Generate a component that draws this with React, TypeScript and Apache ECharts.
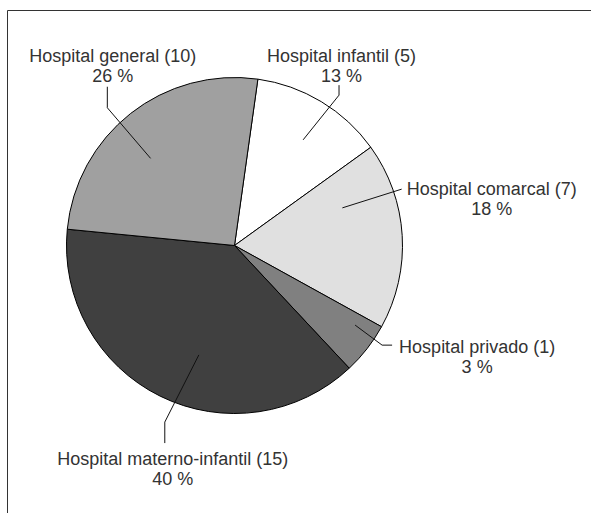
import React, { useEffect, useRef } from "react";
import * as echarts from "echarts";

// Data (clockwise from the top)
const CATEGORIES = [
  "Hospital infantil",
  "Hospital comarcal",
  "Hospital privado",
  "Hospital materno-infantil",
  "Hospital general",
];
const COUNTS = [5, 7, 1, 15, 10];
const COLORS = ["#ffffff", "#e0e0e0", "#808080", "#404040", "#a0a0a0"];

// Pie geometry (pixels)
const CX = 234.5;
const CY = 245.5;
const R = 168;

// Leader-line / label layout per slice:
// a1/k1: start point angle offset (deg, clockwise) from the slice mid-angle and radius fraction
// a2/k2: elbow point angle offset and radius fraction
// leg: vector from elbow to end of the line
// anchor: "center" => label centre at end+off ; "left" => label left edge at end+off
const LABEL_GEOM = [
  { a1: 1.9, k1: 0.75, a2: 3.7, k2: 1.09, leg: [0, -10], anchor: "center", off: [2.5, -19] },
  { a1: -15.8, k1: 0.68, a2: -15.2, k2: 1.05, leg: [0, 0], anchor: "left", off: [5, 10] },
  { a1: -4.5, k1: 0.86, a2: -3.9, k2: 1.06, leg: [10, 0], anchor: "left", off: [7, 12] },
  { a1: -8.2, k1: 0.685, a2: -4.7, k2: 1.13, leg: [0, 21], anchor: "center", off: [8, 26] },
  { a1: -5.7, k1: 0.72, a2: -4.5, k2: 1.116, leg: [0, -21], anchor: "center", off: [5.5, -21] },
];

export default function App() {
  const ref = useRef<HTMLDivElement>(null);

  useEffect(() => {
    if (!ref.current) return;
    const chart = echarts.init(ref.current, undefined, { renderer: "svg" });

    const common = {
      type: "pie",
      center: [CX, CY],
      radius: R,
      startAngle: 82,
      clockwise: true,
      minAngle: 18,
      percentPrecision: 0,
      avoidLabelOverlap: false,
      silent: true,
      emphasis: { disabled: true, scale: false },
    };

    chart.setOption({
      animation: false,
      backgroundColor: "#ffffff",
      graphic: [
        {
          type: "line",
          shape: { x1: 7.5, y1: 10.5, x2: 591, y2: 10.5 },
          style: { stroke: "#333333", lineWidth: 1 },
        },
        {
          type: "line",
          shape: { x1: 7.5, y1: 10.5, x2: 7.5, y2: 513 },
          style: { stroke: "#333333", lineWidth: 1 },
        },
      ],
      series: [
        {
          ...common,
          z: 2,
          itemStyle: { borderColor: "#000000", borderWidth: 1 },
          label: { show: false },
          labelLine: { show: false },
          data: CATEGORIES.map((name, i) => ({
            name,
            value: COUNTS[i],
            itemStyle: { color: COLORS[i] },
          })),
        },
        {
          ...common,
          z: 4,
          itemStyle: { color: "transparent", borderWidth: 0 },
          label: {
            show: true,
            position: "outside",
            formatter: "{b} ({c})\n{d} %",
            fontSize: 18,
            lineHeight: 20,
            color: "#333333",
            fontFamily: "'Liberation Sans', Arial, sans-serif",
            align: "center",
          },
          labelLine: {
            show: true,
            length: 10,
            length2: 10,
            lineStyle: { color: "#111111", width: 1 },
          },
          labelLayout: (params: any) => {
            const g = LABEL_GEOM[params.dataIndex];
            const pts = params.labelLinePoints;
            if (!g || !pts || !pts[0]) return {};
            const mid = Math.atan2(pts[0][1] - CY, pts[0][0] - CX);
            const pt = (off: number, k: number) => {
              const a = mid + (off * Math.PI) / 180;
              return [CX + Math.cos(a) * R * k, CY + Math.sin(a) * R * k];
            };
            const start = pt(g.a1, g.k1);
            const elbow = pt(g.a2, g.k2);
            const end = [elbow[0] + g.leg[0], elbow[1] + g.leg[1]];
            const w = params.labelRect ? params.labelRect.width : 0;
            const x =
              g.anchor === "left" ? end[0] + g.off[0] + w / 2 : end[0] + g.off[0];
            const y = end[1] + g.off[1];
            return {
              x,
              y,
              align: "center",
              verticalAlign: "middle",
              labelLinePoints: [start, elbow, end],
            };
          },
          data: CATEGORIES.map((name, i) => ({ name, value: COUNTS[i] })),
        },
      ],
    });

    return () => chart.dispose();
  }, []);

  return (
    <div
      ref={ref}
      style={{ position: "fixed", left: 0, top: 0, width: 591, height: 513 }}
    />
  );
}
